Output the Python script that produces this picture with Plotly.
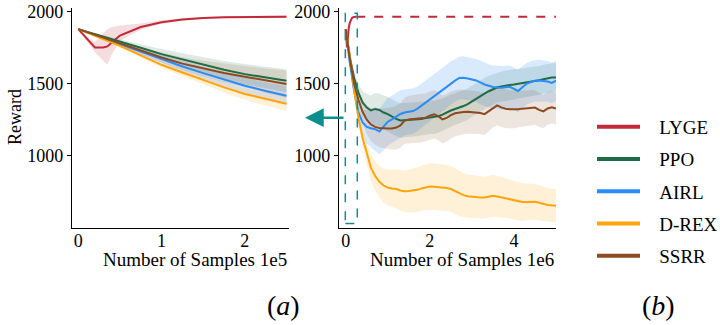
import plotly.graph_objects as go
import numpy as np

# ---------------- data ----------------
SERIES = ["LYGE", "PPO", "AIRL", "D-REX", "SSRR"]
COLORS = {"LYGE": "#C2293A", "PPO": "#1E6B45", "AIRL": "#2A8CF4",
          "D-REX": "#FFA40A", "SSRR": "#8C4A1E"}
FILLS = {"LYGE": "rgba(194,41,58,0.16)", "PPO": "rgba(30,107,69,0.14)",
         "AIRL": "rgba(42,140,244,0.18)", "D-REX": "rgba(255,164,10,0.16)",
         "SSRR": "rgba(140,74,30,0.14)"}

# (a) first 2.5e5 samples, x in units of 1e5
lyge_x_a = [0, 0.1, 0.2, 0.3, 0.35, 0.4, 0.5, 0.75, 1.0, 1.25, 1.5, 1.75, 2.0, 2.25, 2.5]
lyge_a = [1880, 1815, 1752, 1752, 1760, 1785, 1835, 1895, 1928, 1947, 1958, 1963, 1966, 1964, 1967]
lyge_a_lo = [1880, 1800, 1720, 1660, 1632, 1700, 1800, 1875, 1915, 1938, 1952, 1958, 1960, 1955, 1958]
lyge_a_hi = [1880, 1830, 1790, 1855, 1880, 1895, 1905, 1920, 1942, 1956, 1964, 1968, 1972, 1975, 1976]

x_a = [0, 0.25, 0.5, 0.75, 1.0, 1.25, 1.5, 1.75, 2.0, 2.25, 2.5]
ppo_a = [1880, 1835, 1794, 1750, 1706, 1668, 1630, 1597, 1567, 1542, 1521]
ssrr_a = [1880, 1830, 1780, 1730, 1683, 1640, 1605, 1575, 1549, 1522, 1498]
airl_a = [1880, 1828, 1775, 1722, 1672, 1620, 1574, 1528, 1486, 1450, 1417]
drex_a = [1880, 1822, 1764, 1697, 1632, 1578, 1526, 1475, 1429, 1393, 1361]
ppo_a_sd = [0, 8, 16, 25, 35, 45, 55, 62, 70, 75, 80]
ssrr_a_sd = [0, 8, 16, 25, 35, 45, 55, 65, 75, 85, 95]
airl_a_sd = [0, 6, 12, 20, 28, 36, 44, 50, 56, 60, 65]
drex_a_sd = [0, 5, 10, 15, 20, 25, 30, 35, 40, 45, 50]

# (b) full run, x in units of 1e6
x_b = [round(0.1 * i, 1) for i in range(51)]
drex_b = [1880, 1690, 1460, 1265, 1125, 1012, 915, 858, 818, 792,
          778, 772, 768, 758, 752, 754, 757, 762, 772, 781,
          785, 783, 781, 779, 775, 768, 752, 735, 725, 718,
          714, 711, 709, 708, 714, 720, 716, 710, 705, 700,
          692, 683, 677, 678, 680, 679, 672, 664, 657, 654, 652]
drex_b_sd = [0, 15, 30, 45, 60, 75, 90, 100, 110, 118,
             125, 130, 135, 140, 145, 150, 152, 155, 158, 160,
             162, 162, 162, 160, 160, 160, 158, 155, 152, 150,
             150, 148, 146, 145, 145, 145, 143, 140, 138, 136,
             134, 132, 130, 128, 126, 124, 122, 120, 118, 116, 115]
airl_b = [1880, 1640, 1450, 1305, 1230, 1200, 1190, 1184, 1168, 1200,
          1236, 1252, 1270, 1290, 1300, 1306, 1310, 1325, 1347, 1368,
          1390, 1412, 1435, 1458, 1482, 1505, 1522, 1540, 1542, 1537,
          1530, 1523, 1510, 1495, 1486, 1477, 1474, 1472, 1476, 1479,
          1465, 1450, 1475, 1500, 1512, 1521, 1522, 1520, 1516, 1506, 1521]
airl_b_sd = [0, 20, 40, 65, 90, 115, 135, 150, 160, 165,
             165, 165, 165, 165, 160, 160, 158, 155, 155, 155,
             152, 150, 150, 150, 150, 150, 148, 148, 150, 150,
             150, 150, 152, 150, 148, 150, 150, 152, 150, 148,
             148, 148, 146, 145, 145, 145, 145, 145, 142, 140, 140]
ppo_b = [1880, 1680, 1540, 1440, 1370, 1334, 1314, 1325, 1318, 1300,
         1289, 1270, 1256, 1245, 1246, 1250, 1250, 1252, 1255, 1261,
         1266, 1266, 1274, 1285, 1300, 1314, 1324, 1333, 1345, 1359,
         1378, 1398, 1415, 1432, 1448, 1462, 1474, 1481, 1488, 1491,
         1495, 1499, 1506, 1512, 1516, 1519, 1524, 1532, 1540, 1543, 1544]
ppo_b_sd = [0, 20, 40, 60, 80, 95, 105, 110, 115, 118,
            120, 120, 120, 120, 120, 118, 118, 118, 115, 115,
            115, 115, 115, 112, 112, 112, 110, 110, 110, 110,
            110, 108, 108, 108, 108, 105, 105, 105, 105, 105,
            105, 102, 102, 100, 100, 100, 100, 100, 100, 100, 100]
ssrr_b = [1880, 1670, 1500, 1390, 1305, 1250, 1216, 1200, 1193, 1189,
          1189, 1189, 1195, 1210, 1243, 1252, 1256, 1258, 1260, 1264,
          1278, 1287, 1275, 1252, 1262, 1282, 1295, 1302, 1304, 1305,
          1303, 1301, 1297, 1289, 1310, 1335, 1350, 1336, 1326, 1322,
          1320, 1323, 1327, 1330, 1334, 1334, 1318, 1308, 1328, 1336, 1328]
ssrr_b_sd = [0, 20, 40, 60, 80, 100, 115, 125, 135, 140,
             143, 148, 152, 156, 160, 165, 168, 168, 168, 168,
             168, 168, 168, 165, 165, 162, 160, 158, 155, 152,
             150, 148, 146, 145, 143, 140, 138, 136, 134, 132,
             130, 128, 126, 124, 122, 120, 118, 116, 114, 112, 110]
lyge_final = 1967   # converged LYGE reward (dashed reference)
marker_a_x = 2.5    # end of window (a), 1e5
marker_b_x = 0.25   # same point in (b), 1e6

for arr in (drex_b, drex_b_sd, airl_b, airl_b_sd, ppo_b, ppo_b_sd, ssrr_b, ssrr_b_sd):
    assert len(arr) == len(x_b), len(arr)

TEAL = "#0A8F8C"
FONT = "Liberation Serif"

fig = go.Figure()


def band(x, lo, hi, name, xa, ya):
    fig.add_trace(go.Scatter(x=list(x) + list(x)[::-1], y=list(hi) + list(lo)[::-1],
                             fill="toself", fillcolor=FILLS[name], line=dict(width=0),
                             mode="lines", hoverinfo="skip", showlegend=False,
                             xaxis=xa, yaxis=ya))


def line(x, y, name, xa, ya, dash="solid"):
    fig.add_trace(go.Scatter(x=x, y=y, mode="lines", line=dict(color=COLORS[name], width=2, dash=dash),
                             showlegend=False, xaxis=xa, yaxis=ya))


a_data = {"PPO": (ppo_a, ppo_a_sd), "AIRL": (airl_a, airl_a_sd),
          "D-REX": (drex_a, drex_a_sd), "SSRR": (ssrr_a, ssrr_a_sd)}
b_data = {"PPO": (ppo_b, ppo_b_sd), "AIRL": (airl_b, airl_b_sd),
          "D-REX": (drex_b, drex_b_sd), "SSRR": (ssrr_b, ssrr_b_sd)}

# panel (a)
band(lyge_x_a, lyge_a_lo, lyge_a_hi, "LYGE", "x", "y")
for n, (m, s) in a_data.items():
    m = np.array(m); s = np.array(s)
    band(x_a, m - s, m + s, n, "x", "y")
line(lyge_x_a, lyge_a, "LYGE", "x", "y")
for n in ["PPO", "AIRL", "D-REX", "SSRR"]:
    line(x_a, a_data[n][0], n, "x", "y")

# panel (b)
lyge_x_b = [v / 10 for v in lyge_x_a]
band(lyge_x_b, lyge_a_lo, lyge_a_hi, "LYGE", "x2", "y2")
for n, (m, s) in b_data.items():
    m = np.array(m); s = np.array(s)
    band(x_b, m - s, m + s, n, "x2", "y2")
line(lyge_x_b, lyge_a, "LYGE", "x2", "y2")
line([lyge_x_b[-1], x_b[-1]], [lyge_final, lyge_final], "LYGE", "x2", "y2", dash="dash")
for n in ["PPO", "AIRL", "D-REX", "SSRR"]:
    line(x_b, b_data[n][0], n, "x2", "y2")

# triangle markers on the x axes
TRI_Y = 472
fig.add_trace(go.Scatter(x=[marker_a_x], y=[TRI_Y], mode="markers", cliponaxis=False,
                         marker=dict(symbol="triangle-up", size=9, color=TEAL),
                         showlegend=False, xaxis="x", yaxis="y"))
fig.add_trace(go.Scatter(x=[marker_b_x], y=[TRI_Y], mode="markers", cliponaxis=False,
                         marker=dict(symbol="triangle-up", size=9, color=TEAL),
                         showlegend=False, xaxis="x2", yaxis="y2"))

# legend-only traces (thicker lines)
for i, n in enumerate(SERIES):
    fig.add_trace(go.Scatter(x=[None], y=[None], mode="lines", name="&nbsp;&nbsp;&nbsp;" + n,
                             line=dict(color=COLORS[n], width=4), legendgroup=n,
                             xaxis="x2", yaxis="y2"))

axis_common = dict(showline=True, linecolor="black", linewidth=1.3, showgrid=False, zeroline=False,
                   tickfont=dict(family=FONT, size=18, color="black"))
yaxis_common = dict(ticks="outside", ticklen=4, tickcolor="black", **axis_common)
xaxis_common = dict(ticks="", ticklabelstandoff=-3, **axis_common)
ydom = [1 - 227.5 / 325, 1 - 8.3 / 325]
YR = [500, 2025]
fig.update_layout(
    width=720, height=325, margin=dict(l=0, r=0, t=0, b=0, autoexpand=False),
    plot_bgcolor="white", paper_bgcolor="white",
    font=dict(family=FONT, color="black"),
    xaxis=dict(domain=[72 / 720, 289 / 720], range=[-0.075, 2.53], tickvals=[0, 1, 2],
               anchor="y", **xaxis_common),
    yaxis=dict(domain=ydom, range=YR, tickvals=[1000, 1500, 2000], anchor="x",
               **yaxis_common),
    xaxis2=dict(domain=[339 / 720, 556 / 720], range=[-0.16, 5.0], tickvals=[0, 2, 4],
                anchor="y2", **xaxis_common),
    yaxis2=dict(domain=ydom, range=YR, tickvals=[1000, 1500, 2000], anchor="x2",
                **yaxis_common),
    legend=dict(x=592 / 720, xanchor="left", y=1 - 108 / 325, yanchor="top",
                font=dict(family=FONT, size=19, color="black"), tracegroupgap=4.5,
                itemwidth=43, bgcolor="rgba(0,0,0,0)", traceorder="grouped"),
    showlegend=True,
)

fig.add_shape(type="rect", xref="x2", yref="y2", x0=-0.01, x1=0.275, y0=528, y1=1990,
              line=dict(color=TEAL, width=1.5, dash="dash"))

ann_font = dict(family=FONT, size=19, color="black")
fig.add_annotation(text="Reward", x=15 / 720, y=1 - 117 / 325, xref="paper", yref="paper",
                   xanchor="center", yanchor="middle",
                   textangle=-90, showarrow=False, font=dict(family=FONT, size=18, color="black"))
fig.add_annotation(text="Number of Samples 1e5", x=289 / 720, y=1 - 259 / 325, xref="paper",
                   yref="paper", xanchor="right", yanchor="middle", showarrow=False, font=ann_font)
fig.add_annotation(text="Number of Samples 1e6", x=556 / 720, y=1 - 259 / 325, xref="paper",
                   yref="paper", xanchor="right", yanchor="middle", showarrow=False, font=ann_font)
fig.add_annotation(text="(<i>a</i>)", x=283 / 720, y=1 - 305 / 325, xref="paper", yref="paper",
                   xanchor="center", yanchor="middle",
                   showarrow=False, font=dict(family=FONT, size=28, color="black"))
fig.add_annotation(text="(<i>b</i>)", x=658 / 720, y=1 - 305 / 325, xref="paper", yref="paper",
                   xanchor="center", yanchor="middle",
                   showarrow=False, font=dict(family=FONT, size=28, color="black"))
fig.add_annotation(text="", x=305 / 720, y=1264, xref="paper", yref="y2",
                   ax=40, ay=0, showarrow=True, arrowhead=2, arrowsize=1.5,
                   arrowwidth=2.5, arrowcolor=TEAL, standoff=0)

fig.write_html("out.html", config={"displayModeBar": False},
               post_script="document.body.style.margin='0px';")
